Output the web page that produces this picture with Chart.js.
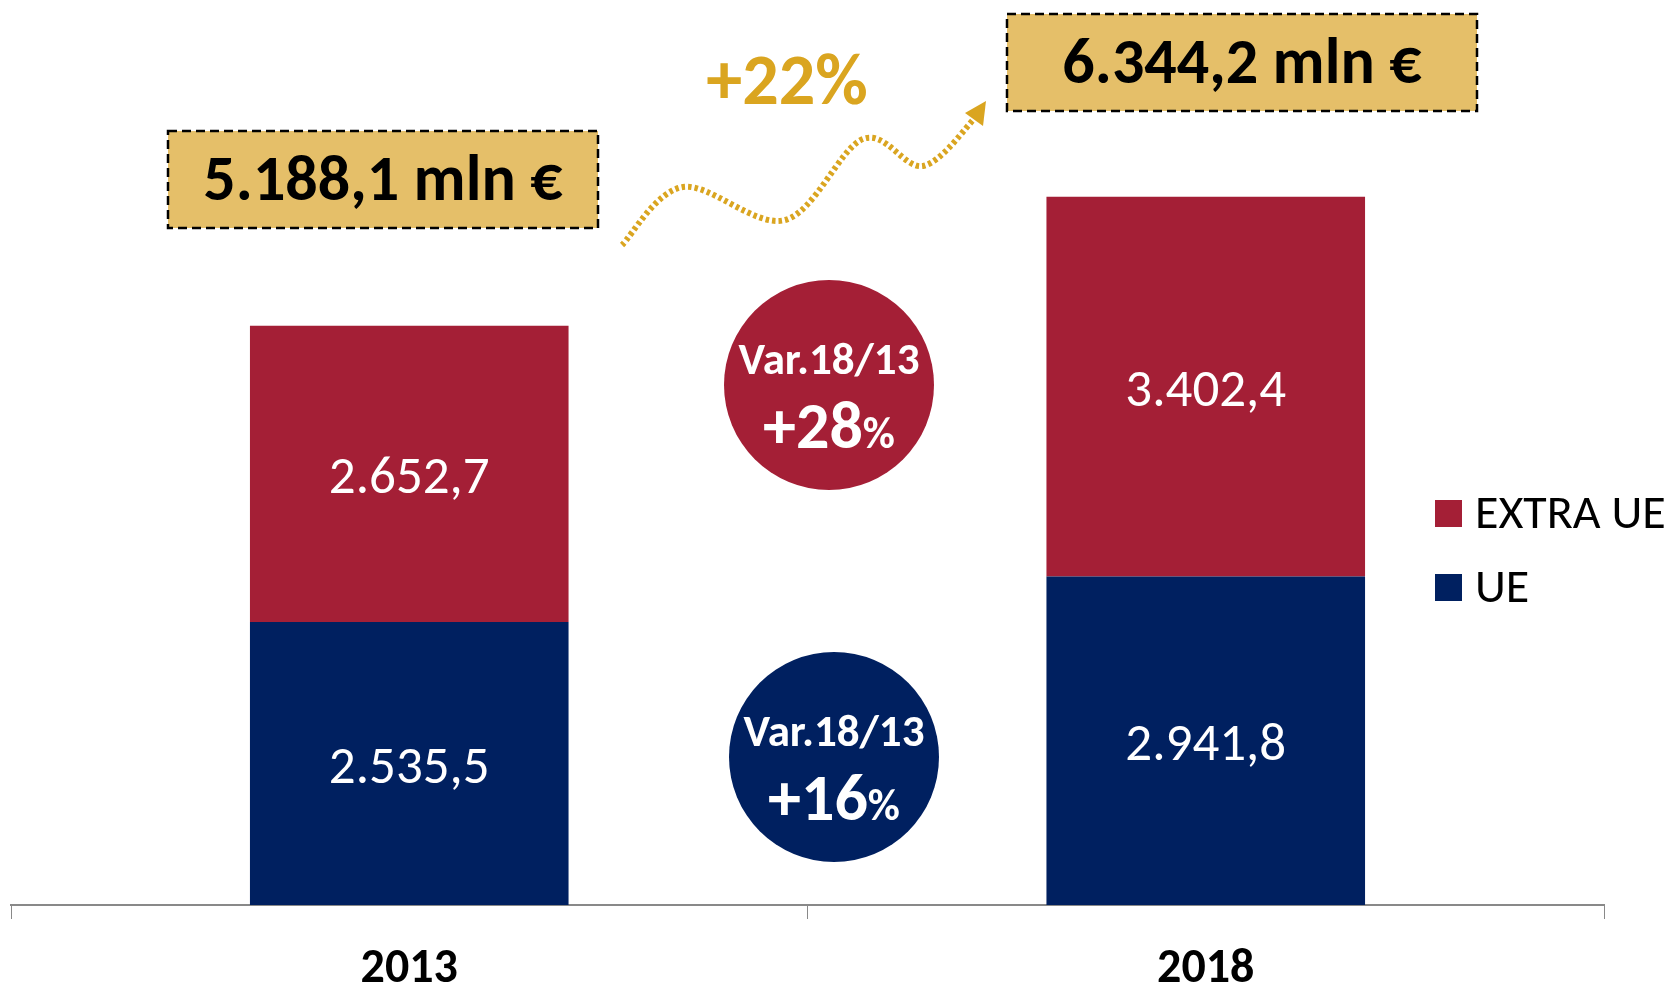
<!DOCTYPE html>
<html>
<head>
<meta charset="utf-8">
<script src="https://cdn.jsdelivr.net/npm/chart.js@4/dist/chart.umd.min.js"></script>
<style>
    html, body { margin: 0; padding: 0; background: #fff; overflow: hidden; }
    #wrap { width: 1669px; height: 1000px; }
</style>
</head>
<body>
<div id="wrap"><canvas id="exportChart"></canvas></div>
<script>
const years = ['2013', '2018'];
const ueValues = [2535.5, 2941.8];
const extraUeValues = [2652.7, 3402.4];
const totalLabels = ['5.188,1 mln €', '6.344,2 mln €'];
const varLabels = ['Var.18/13', 'Var.18/13'];
const varExtraUe = '+28';
const varUe = '+16';
const totalGrowth = '+22%';

const FONT = 'Calibri, Carlito, "Open Sans", sans-serif';
const RED = '#A41F36';
const NAVY = '#002060';
const GOLD = '#DAA520';
const BOX_FILL = '#E5BF69';

// numbers in italian style: 2.652,7
function fmtIt(v) {
    const [i, d] = v.toFixed(1).split('.');
    return i.replace(/\B(?=(\d{3})+(?!\d))/g, '.') + ',' + d;
}

const barLabels = {
    id: 'barLabels',
    afterDatasetsDraw(chart) {
        const ctx = chart.ctx;
        ctx.save();
        ctx.fillStyle = '#fff';
        ctx.font = `53px ${FONT}`;
        ctx.textAlign = 'center';
        ctx.textBaseline = 'middle';
        chart.data.datasets.forEach((ds, i) => {
            chart.getDatasetMeta(i).data.forEach((bar, j) => {
                const c = bar.getCenterPoint();
                ctx.fillText(fmtIt(ds.data[j]), c.x, c.y + 6);
            });
        });
        ctx.restore();
    }
};

function dashedBox(ctx, x, y, w, h, text) {
    ctx.save();
    ctx.fillStyle = BOX_FILL;
    ctx.fillRect(x, y, w, h);
    ctx.setLineDash([9, 5]);
    ctx.lineWidth = 2.5;
    ctx.strokeStyle = '#000';
    ctx.strokeRect(x, y, w, h);
    ctx.setLineDash([]);
    ctx.fillStyle = '#000';
    ctx.font = `bold 64px ${FONT}`;
    ctx.textAlign = 'center';
    ctx.textBaseline = 'alphabetic';
    ctx.fillText(text, x + w / 2, y + 69);
    ctx.restore();
}

function varCircle(ctx, cx, cy, color, pct) {
    ctx.save();
    ctx.fillStyle = color;
    ctx.beginPath();
    ctx.arc(cx, cy, 105, 0, Math.PI * 2);
    ctx.fill();
    ctx.fillStyle = '#fff';
    ctx.textBaseline = 'alphabetic';
    ctx.textAlign = 'center';
    ctx.font = `bold 45px ${FONT}`;
    ctx.fillText(varLabels[0], cx, cy - 11);
    // "+28" big, "%" smaller
    ctx.textAlign = 'left';
    ctx.font = `bold 66px ${FONT}`;
    const w1 = ctx.measureText(pct).width;
    ctx.font = `bold 44px ${FONT}`;
    const w2 = ctx.measureText('%').width;
    const x0 = cx - (w1 + w2) / 2;
    ctx.font = `bold 66px ${FONT}`;
    ctx.fillText(pct, x0, cy + 63);
    ctx.font = `bold 44px ${FONT}`;
    ctx.fillText('%', x0 + w1, cy + 63);
    ctx.restore();
}

function growthArrow(ctx) {
    const pts = [[622, 245], [683, 187], [785, 220], [863, 139], [923, 166], [975, 118]];
    ctx.save();
    ctx.strokeStyle = GOLD;
    ctx.lineWidth = 6;
    ctx.setLineDash([3.5, 3]);
    ctx.beginPath();
    ctx.moveTo(pts[0][0], pts[0][1]);
    for (let i = 0; i < pts.length - 1; i++) {
        const p0 = pts[Math.max(i - 1, 0)], p1 = pts[i], p2 = pts[i + 1], p3 = pts[Math.min(i + 2, pts.length - 1)];
        const c1 = [p1[0] + (p2[0] - p0[0]) / 6, p1[1] + (p2[1] - p0[1]) / 6];
        const c2 = [p2[0] - (p3[0] - p1[0]) / 6, p2[1] - (p3[1] - p1[1]) / 6];
        ctx.bezierCurveTo(c1[0], c1[1], c2[0], c2[1], p2[0], p2[1]);
    }
    ctx.stroke();
    ctx.setLineDash([]);
    ctx.fillStyle = GOLD;
    ctx.beginPath();
    ctx.moveTo(986, 101);
    ctx.lineTo(965, 113);
    ctx.lineTo(983, 126);
    ctx.closePath();
    ctx.fill();

    ctx.font = `bold 72px ${FONT}`;
    ctx.textAlign = 'center';
    ctx.textBaseline = 'alphabetic';
    ctx.fillText(totalGrowth, 787, 104);
    ctx.restore();
}

const extras = {
    id: 'extras',
    afterDraw(chart) {
        const ctx = chart.ctx;
        dashedBox(ctx, 168, 131, 430, 97, totalLabels[0]);
        dashedBox(ctx, 1007, 14, 470, 97, totalLabels[1]);
        growthArrow(ctx);
        varCircle(ctx, 829, 385, RED, varExtraUe);
        varCircle(ctx, 834, 757, NAVY, varUe);

        // legend (reverse order: EXTRA UE on top)
        ctx.save();
        ctx.font = `48px ${FONT}`;
        ctx.textBaseline = 'alphabetic';
        ctx.textAlign = 'left';
        const items = chart.data.datasets.slice().reverse();
        items.forEach((ds, k) => {
            const y = 500 + k * 74;
            ctx.fillStyle = ds.backgroundColor;
            ctx.fillRect(1435, y, 27, 27);
            ctx.fillStyle = '#000';
            ctx.fillText(ds.label, 1475, y + 28);
        });
        ctx.restore();
    }
};

new Chart(document.getElementById('exportChart'), {
    type: 'bar',
    data: {
        labels: years,
        datasets: [
            { label: 'UE', data: ueValues, backgroundColor: NAVY },
            { label: 'EXTRA UE', data: extraUeValues, backgroundColor: RED }
        ]
    },
    options: {
        responsive: true,
        maintainAspectRatio: false,
        animation: false,
        layout: { padding: { left: 11, right: 65, top: 12, bottom: 0 } },
        datasets: { bar: { categoryPercentage: 1, barPercentage: 0.4 } },
        plugins: {
            legend: { display: false },
            tooltip: { enabled: false }
        },
        scales: {
            x: {
                stacked: true,
                grid: { offset: true, drawOnChartArea: false, drawTicks: true, tickLength: 14, color: '#898989', lineWidth: 1 },
                border: { color: '#898989', width: 2 },
                ticks: { color: '#000', font: { family: FONT, size: 48, weight: 'bold' }, padding: 22 },
                afterFit: (scale) => { scale.height = 95; }
            },
            y: {
                stacked: true,
                display: false,
                min: 0,
                max: 8000
            }
        }
    },
    plugins: [barLabels, extras]
});
</script>
</body>
</html>
